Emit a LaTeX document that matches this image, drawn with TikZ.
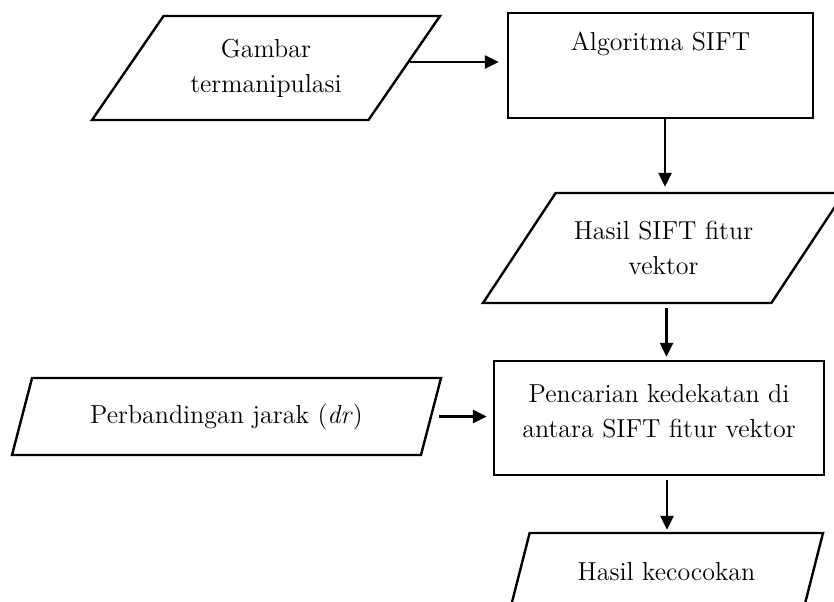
\documentclass[tikz,border=0pt]{standalone}
\usetikzlibrary{shapes.geometric,arrows.meta}
\begin{document}
\begin{tikzpicture}[x=0.5pt, y=-0.5pt, line width=1.2pt,
    every node/.style={font=\fontsize{13}{17.5}\selectfont, align=center},
    io/.style={trapezium, draw, trapezium stretches body, inner sep=0pt},
    proses/.style={rectangle, draw, inner sep=0pt},
    panah/.style={-{Triangle[length=7pt,width=6.5pt]}}]
    \useasboundingbox (0,0) rectangle (834,601);
    \clip (0,0) rectangle (834,601);

    \node (gambar) at (266,68) [io, trapezium left angle=39.2, trapezium right angle=140.8, minimum width=174pt, minimum height=52pt] {Gambar\\termanipulasi};
    \node (algo) at (660.5,65.5) [proses, minimum width=152.5pt, minimum height=52.5pt, text depth=24pt] {Algoritma SIFT};
    \node (fitur) at (663.5,248) [io, trapezium left angle=36.4, trapezium right angle=143.6, minimum width=180.5pt, minimum height=55pt] {Hasil SIFT fitur\\vektor};
    \node (jarak) at (226.5,416.5) [io, trapezium left angle=52.4, trapezium right angle=127.6, minimum width=214.5pt, minimum height=38.5pt] {Perbandingan jarak (\textit{dr})};
    \node (cari) at (659,418) [proses, minimum width=165pt, minimum height=57pt, text depth=7pt] {Pencarian kedekatan di\\antara SIFT fitur vektor};
    \node (cocok) at (666.5,571.5) [io, trapezium left angle=43, trapezium right angle=137, minimum width=156.5pt, minimum height=38.5pt] {Hasil kecocokan};

    \draw[panah, shorten <=2pt, shorten >=4pt] ([yshift=3pt]gambar.east) -- ([yshift=3pt]gambar.east -| algo.west);
    \draw[panah, shorten >=2.5pt] ([xshift=2.25pt]algo.south) -- ([xshift=2.25pt]algo.south |- fitur.north);
    \draw[panah, shorten <=2pt, shorten >=1.5pt] ([xshift=1.5pt]fitur.south) -- ([xshift=1.5pt]fitur.south |- cari.north);
    \draw[panah, shorten <=3.5pt, shorten >=3pt] (jarak.east) -- (jarak.east -| cari.west);
    \draw[panah, shorten <=2pt, shorten >=1pt] ([xshift=4pt]cari.south) -- ([xshift=4pt]cari.south |- cocok.north);
\end{tikzpicture}
\end{document}
